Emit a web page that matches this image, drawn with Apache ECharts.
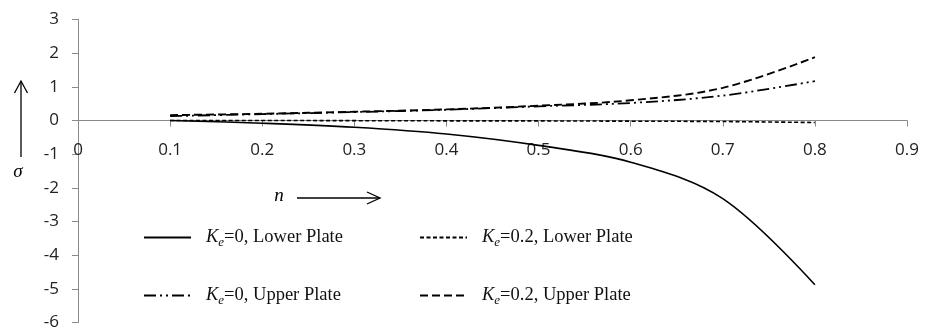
<!DOCTYPE html>
<html>
<head>
<meta charset="utf-8">
<script src="https://cdn.jsdelivr.net/npm/echarts@6/dist/echarts.min.js"></script>
<style>
html,body{margin:0;padding:0;background:#fff;}
#chart{width:933px;height:328px;}
</style>
</head>
<body>
<div id="chart"></div>
<script>
// ---- data ----
var nValues = [0.1, 0.2, 0.3, 0.4, 0.5, 0.6, 0.7, 0.8];
var ke0Lower  = [0.00, -0.08, -0.20, -0.40, -0.74, -1.24, -2.32, -4.88];
var ke02Lower = [0.00, 0.00, -0.005, -0.01, -0.012, -0.02, -0.03, -0.06];
var ke0Upper  = [0.13, 0.19, 0.25, 0.32, 0.42, 0.52, 0.74, 1.17];
var ke02Upper = [0.16, 0.20, 0.26, 0.33, 0.44, 0.60, 0.97, 1.88];
var seriesNames = ['Ke=0, Lower Plate', 'Ke=0.2, Lower Plate', 'Ke=0, Upper Plate', 'Ke=0.2, Upper Plate'];
var legendLabels = ['=0, Lower Plate', '=0.2, Lower Plate', '=0, Upper Plate', '=0.2, Upper Plate'];
var xTicks = {min: 0, max: 0.9, interval: 0.1};
var yTicks = {min: -6, max: 3, interval: 1};

function pairs(ys) { return nValues.map(function (x, i) { return [x, ys[i]]; }); }

var chart = echarts.init(document.getElementById('chart'), null, {renderer: 'canvas'});

var W = 933, H = 328;
var gridTop = 19.5, gridBottom = 5.5;
var gridH = H - gridTop - gridBottom;
// place the x axis where y = 0 (measured from the bottom edge of the grid)
var zeroOffset = -gridH * (0 - yTicks.min) / (yTicks.max - yTicks.min);

var axisColor = '#8a8a8a';
var labelFont = {color: '#222', fontFamily: 'Open Sans', fontSize: 17};

var rich = {
  k: {fontFamily: 'Liberation Serif', fontStyle: 'italic', fontSize: 18.5, color: '#111'},
  e: {fontFamily: 'Liberation Serif', fontStyle: 'italic', fontSize: 13, color: '#111', padding: [10, 0, 0, 0]},
  t: {fontFamily: 'Liberation Serif', fontSize: 18.5, color: '#111'}
};

function makeLegend(idx, left, top) {
  return {
    data: [seriesNames[idx]],
    left: left, top: top, padding: 0,
    itemWidth: 47, itemHeight: 14,
    selectedMode: false,
    itemStyle: {opacity: 0, borderWidth: 0},
    formatter: function () { return '{k|K}{e|e}{t|' + legendLabels[idx] + '}'; },
    textStyle: {padding: [0, 0, 0, 10], rich: rich}
  };
}

var seriesStyles = [
  {width: 1.6, type: 'solid'},
  {width: 1.6, type: [4, 2.5]},
  {width: 1.8, type: [12, 4, 2, 4, 2, 4]},
  {width: 1.9, type: [8, 4]}
];
var seriesData = [ke0Lower, ke02Lower, ke0Upper, ke02Upper];

var option = {
  backgroundColor: '#fff',
  animation: false,
  grid: {left: 78, right: 26, top: gridTop, bottom: gridBottom, containLabel: false, outerBoundsMode: 'none'},
  xAxis: {
    type: 'value', min: xTicks.min, max: xTicks.max, interval: xTicks.interval,
    position: 'bottom', offset: zeroOffset,
    axisLine: {onZero: false, lineStyle: {color: axisColor, width: 1}},
    axisTick: {show: true, length: 6, lineStyle: {color: axisColor}},
    axisLabel: Object.assign({margin: 21, hideOverlap: false}, labelFont),
    splitLine: {show: false}
  },
  yAxis: {
    type: 'value', min: yTicks.min, max: yTicks.max, interval: yTicks.interval,
    axisLine: {show: true, onZero: false, lineStyle: {color: axisColor, width: 1}},
    axisTick: {show: true, length: 6, lineStyle: {color: axisColor}},
    axisLabel: Object.assign({margin: 19, hideOverlap: false}, labelFont),
    splitLine: {show: false}
  },
  legend: [
    makeLegend(0, 143, 228),
    makeLegend(1, 419, 228),
    makeLegend(2, 143, 286),
    makeLegend(3, 419, 286)
  ],
  series: seriesNames.map(function (name, i) {
    return {
      name: name, type: 'line', data: pairs(seriesData[i]),
      smooth: 0.35, symbol: 'none', showSymbol: false,
      lineStyle: {color: '#000', width: seriesStyles[i].width, type: seriesStyles[i].type},
      itemStyle: {color: '#000'},
      z: 3
    };
  }),
  graphic: [
    // sigma arrow
    {type: 'line', shape: {x1: 21, y1: 157, x2: 21, y2: 81}, style: {stroke: '#000', lineWidth: 1.3}},
    {type: 'polyline', shape: {points: [[14.5, 93], [21, 81], [27.5, 93]]}, style: {stroke: '#000', lineWidth: 1.3, fill: null}},
    {type: 'text', x: 18, y: 172, style: {text: 'σ', font: 'italic 19px "Liberation Serif"', fill: '#000', align: 'center', verticalAlign: 'middle'}},
    // n arrow
    {type: 'text', x: 279, y: 196, style: {text: 'n', font: 'italic 19px "Liberation Serif"', fill: '#000', align: 'center', verticalAlign: 'middle'}},
    {type: 'line', shape: {x1: 297, y1: 198, x2: 380, y2: 198}, style: {stroke: '#000', lineWidth: 1.3}},
    {type: 'polyline', shape: {points: [[367, 192], [380, 198], [367, 204]]}, style: {stroke: '#000', lineWidth: 1.3, fill: null}}
  ]
};
chart.setOption(option);
</script>
</body>
</html>
